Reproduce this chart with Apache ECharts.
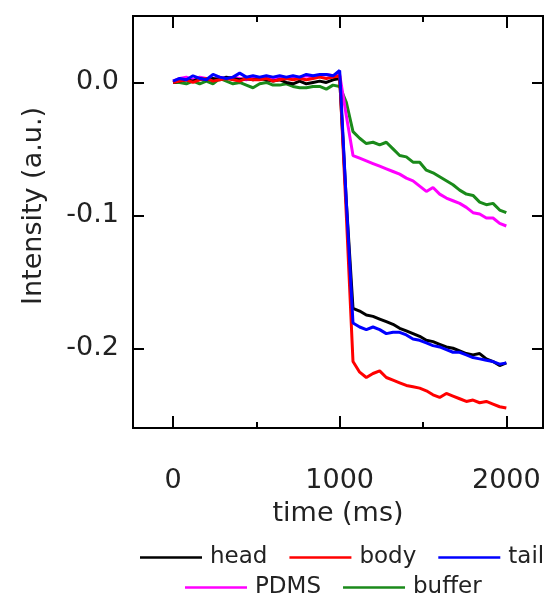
<!DOCTYPE html>
<html><head><meta charset="utf-8">
<script src="https://cdn.jsdelivr.net/npm/echarts@6/dist/echarts.min.js"></script>
<style>html,body{margin:0;padding:0;background:#fff}#c{width:545px;height:601px}</style>
</head><body><div id="c"></div>
<script>
const time = [0,40,80,120,160,200,240,280,320,360,400,440,480,520,560,600,640,680,720,760,800,840,880,920,960,1000,
  1040,1080,1120,1160,1200,1240,1280,1320,1360,1400,1440,1480,1520,1560,1600,1640,1680,1720,1760,1800,1840,1880,1920,1960,2000];
const head = [0,0.001,0.002,0.001,0.003,0.002,0.003,0.002,0.004,0.003,0.002,0.003,0.002,0.003,0.002,0.001,0.002,0.000,-0.001,0.001,-0.001,0.000,0.001,0.000,0.002,0.003,
  -0.09,-0.170,-0.172,-0.175,-0.176,-0.178,-0.180,-0.182,-0.185,-0.187,-0.189,-0.191,-0.194,-0.195,-0.197,-0.199,-0.200,-0.202,-0.204,-0.205,-0.204,-0.208,-0.210,-0.213,-0.211];
const body = [0,0.001,0.002,0.000,0.002,0.003,0.001,0.002,0.003,0.002,0.001,0.003,0.002,0.002,0.003,0.001,0.002,0.003,0.002,0.003,0.002,0.003,0.004,0.003,0.004,0.005,
  -0.10,-0.210,-0.218,-0.222,-0.219,-0.217,-0.222,-0.224,-0.226,-0.228,-0.229,-0.230,-0.232,-0.235,-0.237,-0.234,-0.236,-0.238,-0.240,-0.239,-0.241,-0.240,-0.242,-0.244,-0.245];
const tail = [0.001,0.003,0.002,0.005,0.003,0.002,0.006,0.004,0.003,0.004,0.007,0.004,0.005,0.004,0.005,0.004,0.005,0.004,0.005,0.004,0.006,0.005,0.006,0.006,0.005,0.009,
  -0.09,-0.181,-0.184,-0.186,-0.184,-0.186,-0.189,-0.188,-0.188,-0.190,-0.193,-0.194,-0.196,-0.198,-0.199,-0.201,-0.203,-0.203,-0.205,-0.207,-0.208,-0.209,-0.210,-0.212,-0.211];
const pdms = [0.001,0.003,0.004,0.002,0.004,0.003,0.002,0.004,0.003,0.004,0.003,0.002,0.004,0.003,0.004,0.003,0.004,0.003,0.004,0.004,0.005,0.004,0.005,0.006,0.005,0.006,
  -0.025,-0.055,-0.057,-0.059,-0.061,-0.063,-0.065,-0.067,-0.069,-0.072,-0.074,-0.078,-0.082,-0.079,-0.084,-0.087,-0.089,-0.091,-0.094,-0.098,-0.099,-0.102,-0.102,-0.106,-0.108];
const buffer = [0,0.000,-0.001,0.001,-0.001,0.001,-0.001,0.003,0.001,-0.001,0.000,-0.002,-0.004,-0.001,0.000,-0.002,-0.002,-0.001,-0.003,-0.004,-0.004,-0.003,-0.003,-0.005,-0.002,-0.003,
  -0.015,-0.037,-0.042,-0.046,-0.045,-0.047,-0.045,-0.050,-0.055,-0.056,-0.060,-0.060,-0.066,-0.068,-0.071,-0.074,-0.077,-0.081,-0.084,-0.085,-0.090,-0.092,-0.091,-0.096,-0.098];
const xMajor = [0,1000,2000];
const xMinor = [500,1500];
const yTicks = [-0.2,-0.1,0];
const names = ['head','body','tail','PDMS','buffer'];
const colors = ['#000000','#ff0000','#0000ff','#ff00ff','#1a8a1a'];
const seriesData = [head, body, tail, pdms, buffer];

const FONT = 'DejaVu Sans';
const XMIN = -240, XMAX = 2220, YMIN = -0.26, YMAX = 0.05;
const lineStyle = {color:'#000', width:2};
function xAx(pos, ticks, len, labels, extra) {
  return Object.assign({
    type:'value', position:pos, min:XMIN, max:XMAX,
    axisLine:{show:true, onZero:false, lineStyle},
    axisTick:{show:true, inside:true, length:len, customValues:ticks, lineStyle},
    axisLabel:{show:labels, customValues:ticks, margin:39, fontFamily:FONT, fontSize:27, color:'#222',
      formatter:v=>String(v)},
    splitLine:{show:false}
  }, extra||{});
}
function yAx(pos, labels, extra) {
  return Object.assign({
    type:'value', position:pos, min:YMIN, max:YMAX,
    axisLine:{show:true, onZero:false, lineStyle},
    axisTick:{show:true, inside:true, length:11, customValues:yTicks, lineStyle},
    axisLabel:{show:labels, customValues:yTicks, margin:14, fontFamily:FONT, fontSize:27, color:'#222',
      formatter:v=>v.toFixed(1)},
    splitLine:{show:false}
  }, extra||{});
}
const legendCommon = {icon:'rect', itemWidth:62, itemHeight:2.5, itemGap:22, width:412, padding:0,
  textStyle:{fontFamily:FONT, fontSize:23, color:'#222', padding:[0,0,0,3]}};
const chart = echarts.init(document.getElementById('c'), null, {renderer:'canvas'});
chart.setOption({
  animation:false,
  backgroundColor:'#fff',
  grid:{left:133, right:2, top:16, bottom:173, containLabel:false},
  xAxis:[
    xAx('bottom', xMajor, 12, true, {name:'time (ms)', nameLocation:'middle', nameGap:72,
      nameTextStyle:{fontFamily:FONT, fontSize:27, color:'#222'}}),
    xAx('bottom', xMinor, 6, false),
    xAx('top', xMajor, 12, false),
    xAx('top', xMinor, 6, false)
  ],
  yAxis:[
    yAx('left', true, {name:'Intensity (a.u.)', nameLocation:'middle', nameGap:86,
      nameTextStyle:{fontFamily:FONT, fontSize:27, color:'#222', padding:[0,0,0,32]}}),
    yAx('right', false)
  ],
  legend:[
    Object.assign({data:names.slice(0,3), left:140, top:546}, legendCommon),
    Object.assign({data:names.slice(3), left:185, top:576}, legendCommon)
  ],
  series: names.map((n,i)=>({
    name:n, type:'line', xAxisIndex:0, yAxisIndex:0, symbol:'none', showSymbol:false,
    data: time.map((t,k)=>[t, seriesData[i][k]]),
    lineStyle:{color:colors[i], width:3}, itemStyle:{color:colors[i]}, z:[3,4,5,2,1][i]
  }))
});
</script></body></html>
